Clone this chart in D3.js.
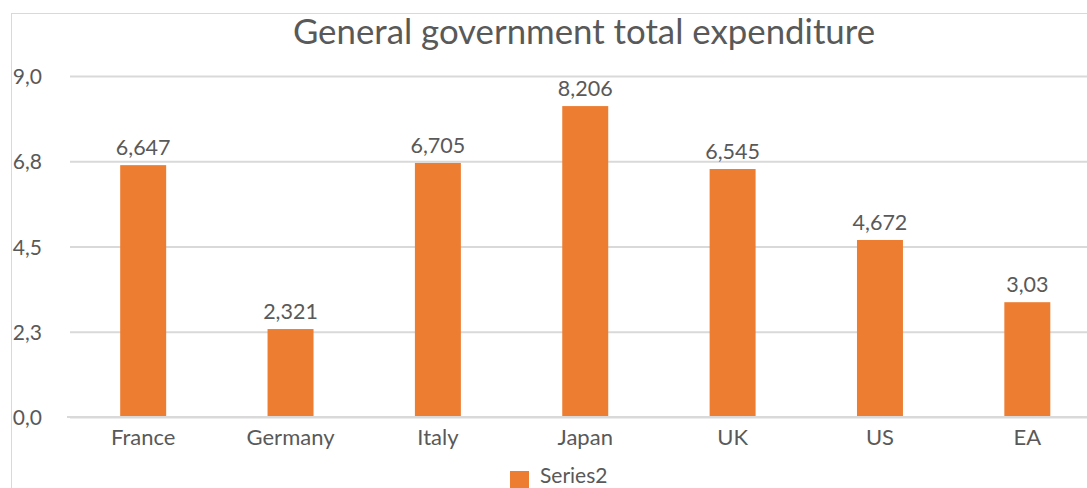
<!DOCTYPE html>
<html>
<head>
<meta charset="utf-8">
<script src="https://cdn.jsdelivr.net/npm/d3@7"></script>
<style>
  html, body { margin: 0; padding: 0; background: #fff; }
  svg { display: block; }
  text { font-family: Lato, "Open Sans", sans-serif; fill: #595959; }
</style>
</head>
<body>
<svg id="chart" width="1087" height="488"></svg>
<script>
const categories = ["France", "Germany", "Italy", "Japan", "UK", "US", "EA"];
const values = [6.647, 2.321, 6.705, 8.206, 6.545, 4.672, 3.03];
const valueLabels = ["6,647", "2,321", "6,705", "8,206", "6,545", "4,672", "3,03"];
const yTicks = [0, 2.25, 4.5, 6.75, 9];
const yTickLabels = ["0,0", "2,3", "4,5", "6,8", "9,0"];
const seriesName = "Series2";
const title = "General government total expenditure";

const svg = d3.select("#chart");
const W = 1087, H = 488;

// chart frame (extends past the visible area)
svg.append("rect")
  .attr("x", 11.5).attr("y", 13.5)
  .attr("width", W + 20).attr("height", H + 20)
  .attr("fill", "none").attr("stroke", "#D9D9D9").attr("stroke-width", 1);

const x = d3.scaleBand()
  .domain(categories)
  .range([69.5, 1101])
  .paddingInner(0.688)
  .paddingOuter(0.344);

const y = d3.scaleLinear().domain([0, 9]).range([417, 76]);

// gridlines
const yAxis = d3.axisLeft(y)
  .tickValues(yTicks)
  .tickSize(-(1101 - 70))
  .tickFormat((d, i) => yTickLabels[i]);

const gy = svg.append("g").attr("transform", "translate(70,0)").call(yAxis);
gy.select(".domain").remove();
gy.selectAll(".tick line").attr("stroke", "#D9D9D9").attr("stroke-width", 2);
gy.selectAll(".tick text")
  .attr("x", -28).attr("text-anchor", "end")
  .style("font-size", "21px").style("font-family", "Lato").attr("fill", "#595959")
  .attr("dy", "0.36em");

// bars
svg.append("g").selectAll("rect")
  .data(values)
  .join("rect")
  .attr("x", (d, i) => x(categories[i]))
  .attr("y", d => y(d))
  .attr("width", x.bandwidth())
  .attr("height", d => y(0) - y(d))
  .attr("fill", "#ED7D31");

// baseline
svg.append("line")
  .attr("x1", 67).attr("x2", 1101)
  .attr("y1", y(0)).attr("y2", y(0))
  .attr("stroke", "#D9D9D9").attr("stroke-width", 2);

// data labels
svg.append("g").selectAll("text")
  .data(values)
  .join("text")
  .attr("x", (d, i) => x(categories[i]) + x.bandwidth() / 2)
  .attr("y", d => y(d) - 10)
  .attr("text-anchor", "middle")
  .style("font-size", "21.5px")
  .text((d, i) => valueLabels[i]);

// x axis labels
const xAxis = d3.axisBottom(x).tickSize(0).tickPadding(0);
const gx = svg.append("g").attr("transform", `translate(0,${y(0)})`).call(xAxis);
gx.select(".domain").remove();
gx.selectAll(".tick text")
  .attr("y", 28).attr("dy", 0)
  .style("font-size", "22px").style("font-family", "Lato").attr("fill", "#595959");

// title
svg.append("text")
  .attr("x", 584).attr("y", 44)
  .attr("text-anchor", "middle")
  .style("font-size", "34.8px")
  .text(title);

// legend
const lg = svg.append("g");
lg.append("rect")
  .attr("x", 510).attr("y", 471).attr("width", 19).attr("height", 19)
  .attr("fill", "#ED7D31");
lg.append("text")
  .attr("x", 540).attr("y", 483)
  .style("font-size", "21px")
  .text(seriesName);
</script>
</body>
</html>
